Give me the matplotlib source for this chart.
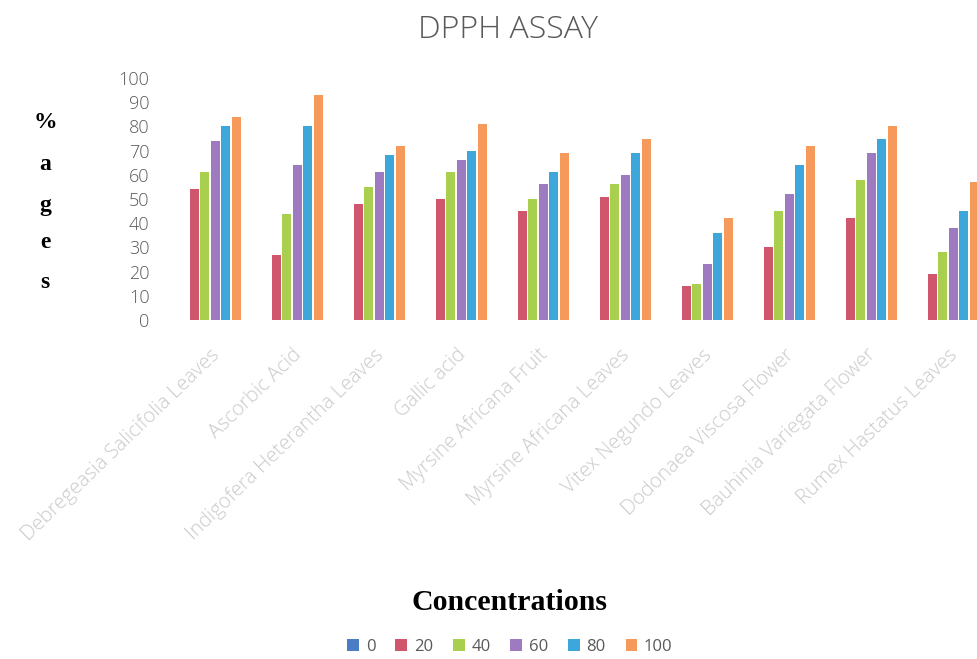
import numpy as np
import matplotlib.pyplot as plt

categories = ['Debregeasia Salicifolia Leaves', 'Ascorbic Acid', 'Indigofera Heterantha Leaves',
              'Gallic acid', 'Myrsine Africana Fruit', 'Myrsine Africana Leaves',
              'Vitex Negundo Leaves', 'Dodonaea Viscosa Flower', 'Bauhinia Variegata Flower',
              'Rumex Hastatus Leaves']
conc = ['0', '20', '40', '60', '80', '100']
c0 = [0, 0, 0, 0, 0, 0, 0, 0, 0, 0]
c20 = [54, 27, 48, 50, 45, 51, 14, 30, 42, 19]
c40 = [61, 44, 55, 61, 50, 56, 15, 45, 58, 28]
c60 = [74, 64, 61, 66, 56, 60, 23, 52, 69, 38]
c80 = [80, 80, 68, 70, 61, 69, 36, 64, 75, 45]
c100 = [84, 93, 72, 81, 69, 75, 42, 72, 80, 57]
series = [c0, c20, c40, c60, c80, c100]
colors = ['#4a7dc4', '#d0566e', '#a9cf4f', '#9e7bc0', '#3da7dc', '#f59a5a']

fig = plt.figure(figsize=(9.78, 6.59), dpi=100)
ax = fig.add_axes([169/978, 339/659, 820/978, 242/659])

x = np.arange(len(categories))
pitch = 0.129
for j, (vals, col) in enumerate(zip(series, colors)):
    ax.bar(x + (j - 2.5)*pitch, vals, width=0.11, color=col, label=conc[j])

ax.set_xlim(-0.5, 9.5)
ax.set_ylim(0, 100)
ax.set_yticks(np.arange(0, 101, 10))
for s in ax.spines.values():
    s.set_visible(False)
ax.tick_params(axis='both', length=0)
ax.tick_params(axis='y', labelsize=13, labelcolor='#595959', pad=14)
for t in ax.get_yticklabels():
    t.set_fontfamily('Open Sans')
    t.set_fontweight('light')
ax.set_xticks(x)
ax.set_xticklabels(categories, rotation=44, ha='right', rotation_mode='anchor',
                   color='#cacaca', fontsize=14.5, family='Open Sans', fontweight='light')
ax.tick_params(axis='x', pad=18)

fig.text(508/978, 1 - 30/659, 'DPPH ASSAY', ha='center', va='center',
         fontsize=23, color='#595959', family='Open Sans', fontweight='light')

ylab = ['%', 'a', 'g', 'e', 's']
ypos = [122, 165, 205, 243, 283]
for ch, yy in zip(ylab, ypos):
    fig.text(45/978, 1 - yy/659, ch, ha='center', va='center', fontsize=17,
             fontweight='bold', family='Liberation Serif')

fig.text(510/978, 1 - 603/659, 'Concentrations', ha='center', va='center',
         fontsize=21.5, fontweight='bold', family='Liberation Serif')

fig.legend(loc='center', bbox_to_anchor=(510/978, 1 - 647/659), ncol=6, frameon=False,
           handlelength=0.7, handleheight=0.7, handletextpad=0.4, columnspacing=1.2,
           prop={'family': 'Open Sans', 'size': 12}, labelcolor='#595959')

fig.savefig('out.png', dpi=100)
